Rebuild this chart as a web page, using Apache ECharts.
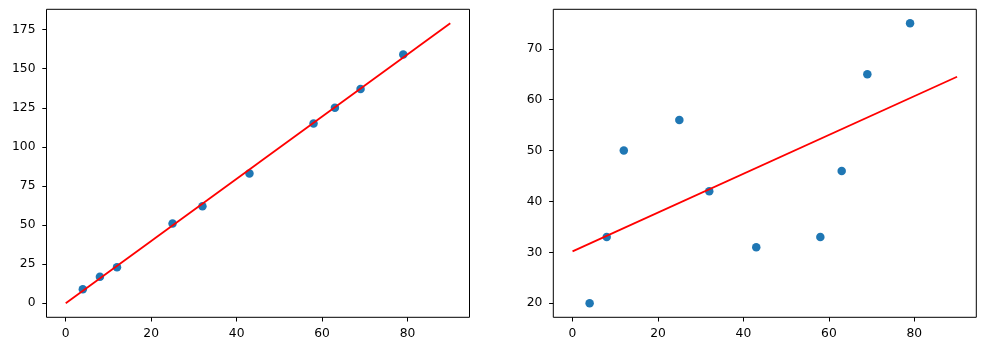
<!DOCTYPE html>
<html>
<head>
<meta charset="utf-8">
<script src="https://cdn.jsdelivr.net/npm/echarts@6/dist/echarts.min.js"></script>
<style>html,body{margin:0;padding:0;background:#fff;}#c{width:986px;height:351px;}</style>
</head>
<body>
<div id="c"></div>
<script>
// Data
var xValues = [4, 8, 12, 25, 32, 43, 58, 63, 69, 79];
var yLeft = [9, 17, 23, 51, 62, 83, 115, 125, 137, 159];
var yRight = [20, 33, 50, 56, 42, 31, 33, 46, 65, 75];
var lineX = [0, 90];
var lineLeftY = [0, 179];
var lineRightY = [30.2, 64.5];
var xTicks = [0, 20, 40, 60, 80];
var yTicksLeft = [0, 25, 50, 75, 100, 125, 150, 175];
var yTicksRight = [20, 30, 40, 50, 60, 70];

function pairs(xs, ys) { return xs.map(function (x, i) { return [x, ys[i]]; }); }

var font = { fontFamily: 'DejaVu Sans', fontSize: 12.3, color: '#000' };

function xAxis(gi) {
  return {
    type: 'value', gridIndex: gi, min: -4.5, max: 94.5, position: 'bottom',
    axisLine: { show: false, onZero: false },
    splitLine: { show: false },
    axisTick: { show: true, inside: false, length: 4.2, lineStyle: { color: '#000', width: 1 }, customValues: xTicks },
    axisLabel: Object.assign({ margin: 11, customValues: xTicks }, font)
  };
}
function yAxis(gi, min, max, ticks) {
  return {
    type: 'value', gridIndex: gi, min: min, max: max, position: 'left',
    axisLine: { show: false, onZero: false },
    splitLine: { show: false },
    axisTick: { show: true, inside: false, length: 4.2, lineStyle: { color: '#000', width: 1 }, customValues: ticks },
    axisLabel: Object.assign({ margin: 11, customValues: ticks }, font)
  };
}

var chart = echarts.init(document.getElementById('c'), null, { renderer: 'canvas' });
chart.setOption({
  animation: false,
  backgroundColor: '#fff',
  grid: [
    { left: 46.5, top: 9.3, width: 423, height: 308, show: true, borderColor: '#000', borderWidth: 1, backgroundColor: 'transparent' },
    { left: 553.3, top: 9.3, width: 423, height: 308, show: true, borderColor: '#000', borderWidth: 1, backgroundColor: 'transparent' }
  ],
  xAxis: [xAxis(0), xAxis(1)],
  yAxis: [yAxis(0, -8.95, 187.95, yTicksLeft), yAxis(1, 17.25, 77.75, yTicksRight)],
  series: [
    { type: 'scatter', xAxisIndex: 0, yAxisIndex: 0, data: pairs(xValues, yLeft), symbolSize: 8.5, itemStyle: { color: '#1f77b4', opacity: 1 }, z: 2 },
    { type: 'line', xAxisIndex: 0, yAxisIndex: 0, data: pairs(lineX, lineLeftY), showSymbol: false, symbol: 'none', lineStyle: { color: '#ff0000', width: 1.8 }, z: 3 },
    { type: 'scatter', xAxisIndex: 1, yAxisIndex: 1, data: pairs(xValues, yRight), symbolSize: 8.5, itemStyle: { color: '#1f77b4', opacity: 1 }, z: 2 },
    { type: 'line', xAxisIndex: 1, yAxisIndex: 1, data: pairs(lineX, lineRightY), showSymbol: false, symbol: 'none', lineStyle: { color: '#ff0000', width: 1.8 }, z: 3 }
  ]
});
</script>
</body>
</html>
